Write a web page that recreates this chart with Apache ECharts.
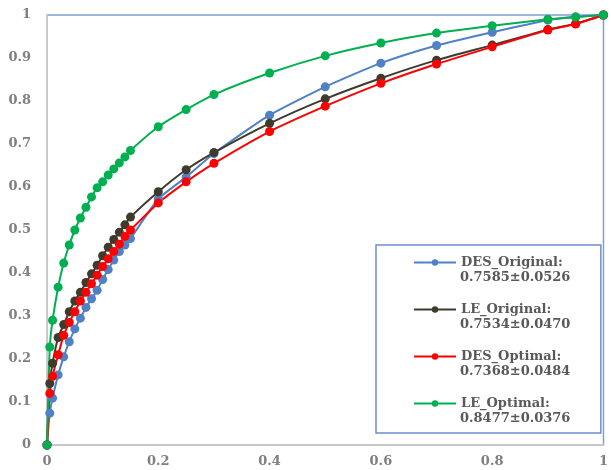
<!DOCTYPE html>
<html>
<head>
<meta charset="utf-8">
<script src="https://cdn.jsdelivr.net/npm/echarts@6/dist/echarts.min.js"></script>
<style>
  html, body { margin: 0; padding: 0; background: #fff; }
  #chart { width: 611px; height: 470px; }
</style>
</head>
<body>
<div id="chart"></div>
<script>
(function() {
// ── 数据──
const fpr = [0, 0.005, 0.01, 0.02, 0.03, 0.04, 0.05, 0.06, 0.07, 0.08, 0.09, 0.10, 0.11, 0.12, 0.13, 0.14, 0.15,
             0.2, 0.25, 0.3, 0.4, 0.5, 0.6, 0.7, 0.8, 0.9, 0.95, 1];
const desOriginal = [0, 0.074, 0.109, 0.163, 0.205, 0.24, 0.27, 0.295, 0.32, 0.34, 0.36, 0.385, 0.408, 0.43, 0.45, 0.465, 0.48,
                     0.572, 0.623, 0.678, 0.767, 0.833, 0.888, 0.929, 0.96, 0.988, 0.996, 1];
const leOriginal = [0, 0.143, 0.19, 0.25, 0.28, 0.31, 0.335, 0.355, 0.378, 0.398, 0.418, 0.44, 0.46, 0.478, 0.495, 0.512, 0.53,
                    0.589, 0.64, 0.68, 0.748, 0.805, 0.853, 0.895, 0.93, 0.966, 0.98, 1];
const desOptimal = [0, 0.12, 0.16, 0.21, 0.255, 0.285, 0.31, 0.335, 0.355, 0.375, 0.395, 0.415, 0.433, 0.45, 0.467, 0.485, 0.5,
                    0.563, 0.612, 0.655, 0.729, 0.788, 0.841, 0.886, 0.926, 0.965, 0.979, 1];
const leOptimal = [0, 0.228, 0.29, 0.367, 0.423, 0.465, 0.5, 0.528, 0.553, 0.577, 0.598, 0.612, 0.628, 0.642, 0.656, 0.67, 0.685,
                   0.74, 0.78, 0.815, 0.865, 0.905, 0.935, 0.958, 0.975, 0.99, 0.995, 1];
const names = ['DES_Original:', 'LE_Original:', 'DES_Optimal:', 'LE_Optimal:'];
const aucText = ['0.7585±0.0526', '0.7534±0.0470', '0.7368±0.0484', '0.8477±0.0376'];
const colors = ['#4f81c7', '#3f3b2c', '#ff0000', '#00b050'];

// ── 样式 ──
const labelFont = { fontFamily: 'DejaVu Serif', fontWeight: 'bold', fontSize: 13, color: '#7f7f7f' };
const legendFont = { fontFamily: 'DejaVu Serif', fontWeight: 'bold', fontSize: 13, color: '#595959', lineHeight: 15 };
const pairs = ys => fpr.map((x, i) => [x, ys[i]]);
const allY = [desOriginal, leOriginal, desOptimal, leOptimal];

const chart = echarts.init(document.getElementById('chart'));
chart.setOption({
  animation: false,
  grid: { left: 47, right: 3, top: 15, bottom: 25, show: true, borderColor: '#7f9fd6', borderWidth: 1.5 },
  xAxis: {
    type: 'value', min: 0, max: 1, interval: 0.2,
    axisLine: { lineStyle: { color: '#c8c8c8', width: 2 } },
    axisTick: { show: false }, splitLine: { show: false },
    axisLabel: Object.assign({ margin: 10 }, labelFont)
  },
  yAxis: {
    type: 'value', min: 0, max: 1, interval: 0.1,
    axisLine: { show: true, lineStyle: { color: '#c8c8c8', width: 2 } },
    axisTick: { show: false }, splitLine: { show: false },
    axisLabel: Object.assign({ margin: 16 }, labelFont)
  },
  legend: [
    { // 名称 + 图标 + 边框
      orient: 'vertical', left: 376, top: 245,
      padding: [10, 38, 22, 37],
      itemGap: 32, itemWidth: 42, itemHeight: 8,
      borderColor: '#6f8fcf', borderWidth: 1.5,
      data: names, textStyle: legendFont
    },
    { // AUC 数值行
      orient: 'vertical', left: 413, top: 270,
      padding: 0, icon: 'none',
      itemGap: 32, itemWidth: 42, itemHeight: 8,
      data: names, textStyle: legendFont,
      formatter: name => aucText[names.indexOf(name)]
    }
  ],
  series: names.map((n, k) => ({
    name: n, type: 'line', data: pairs(allY[k]),
    smooth: 0.2, symbol: 'circle', symbolSize: 9,
    lineStyle: { color: colors[k], width: 2 },
    itemStyle: { color: colors[k] }
  }))
});
window.addEventListener('resize', () => chart.resize());
})();
</script>
</body>
</html>
